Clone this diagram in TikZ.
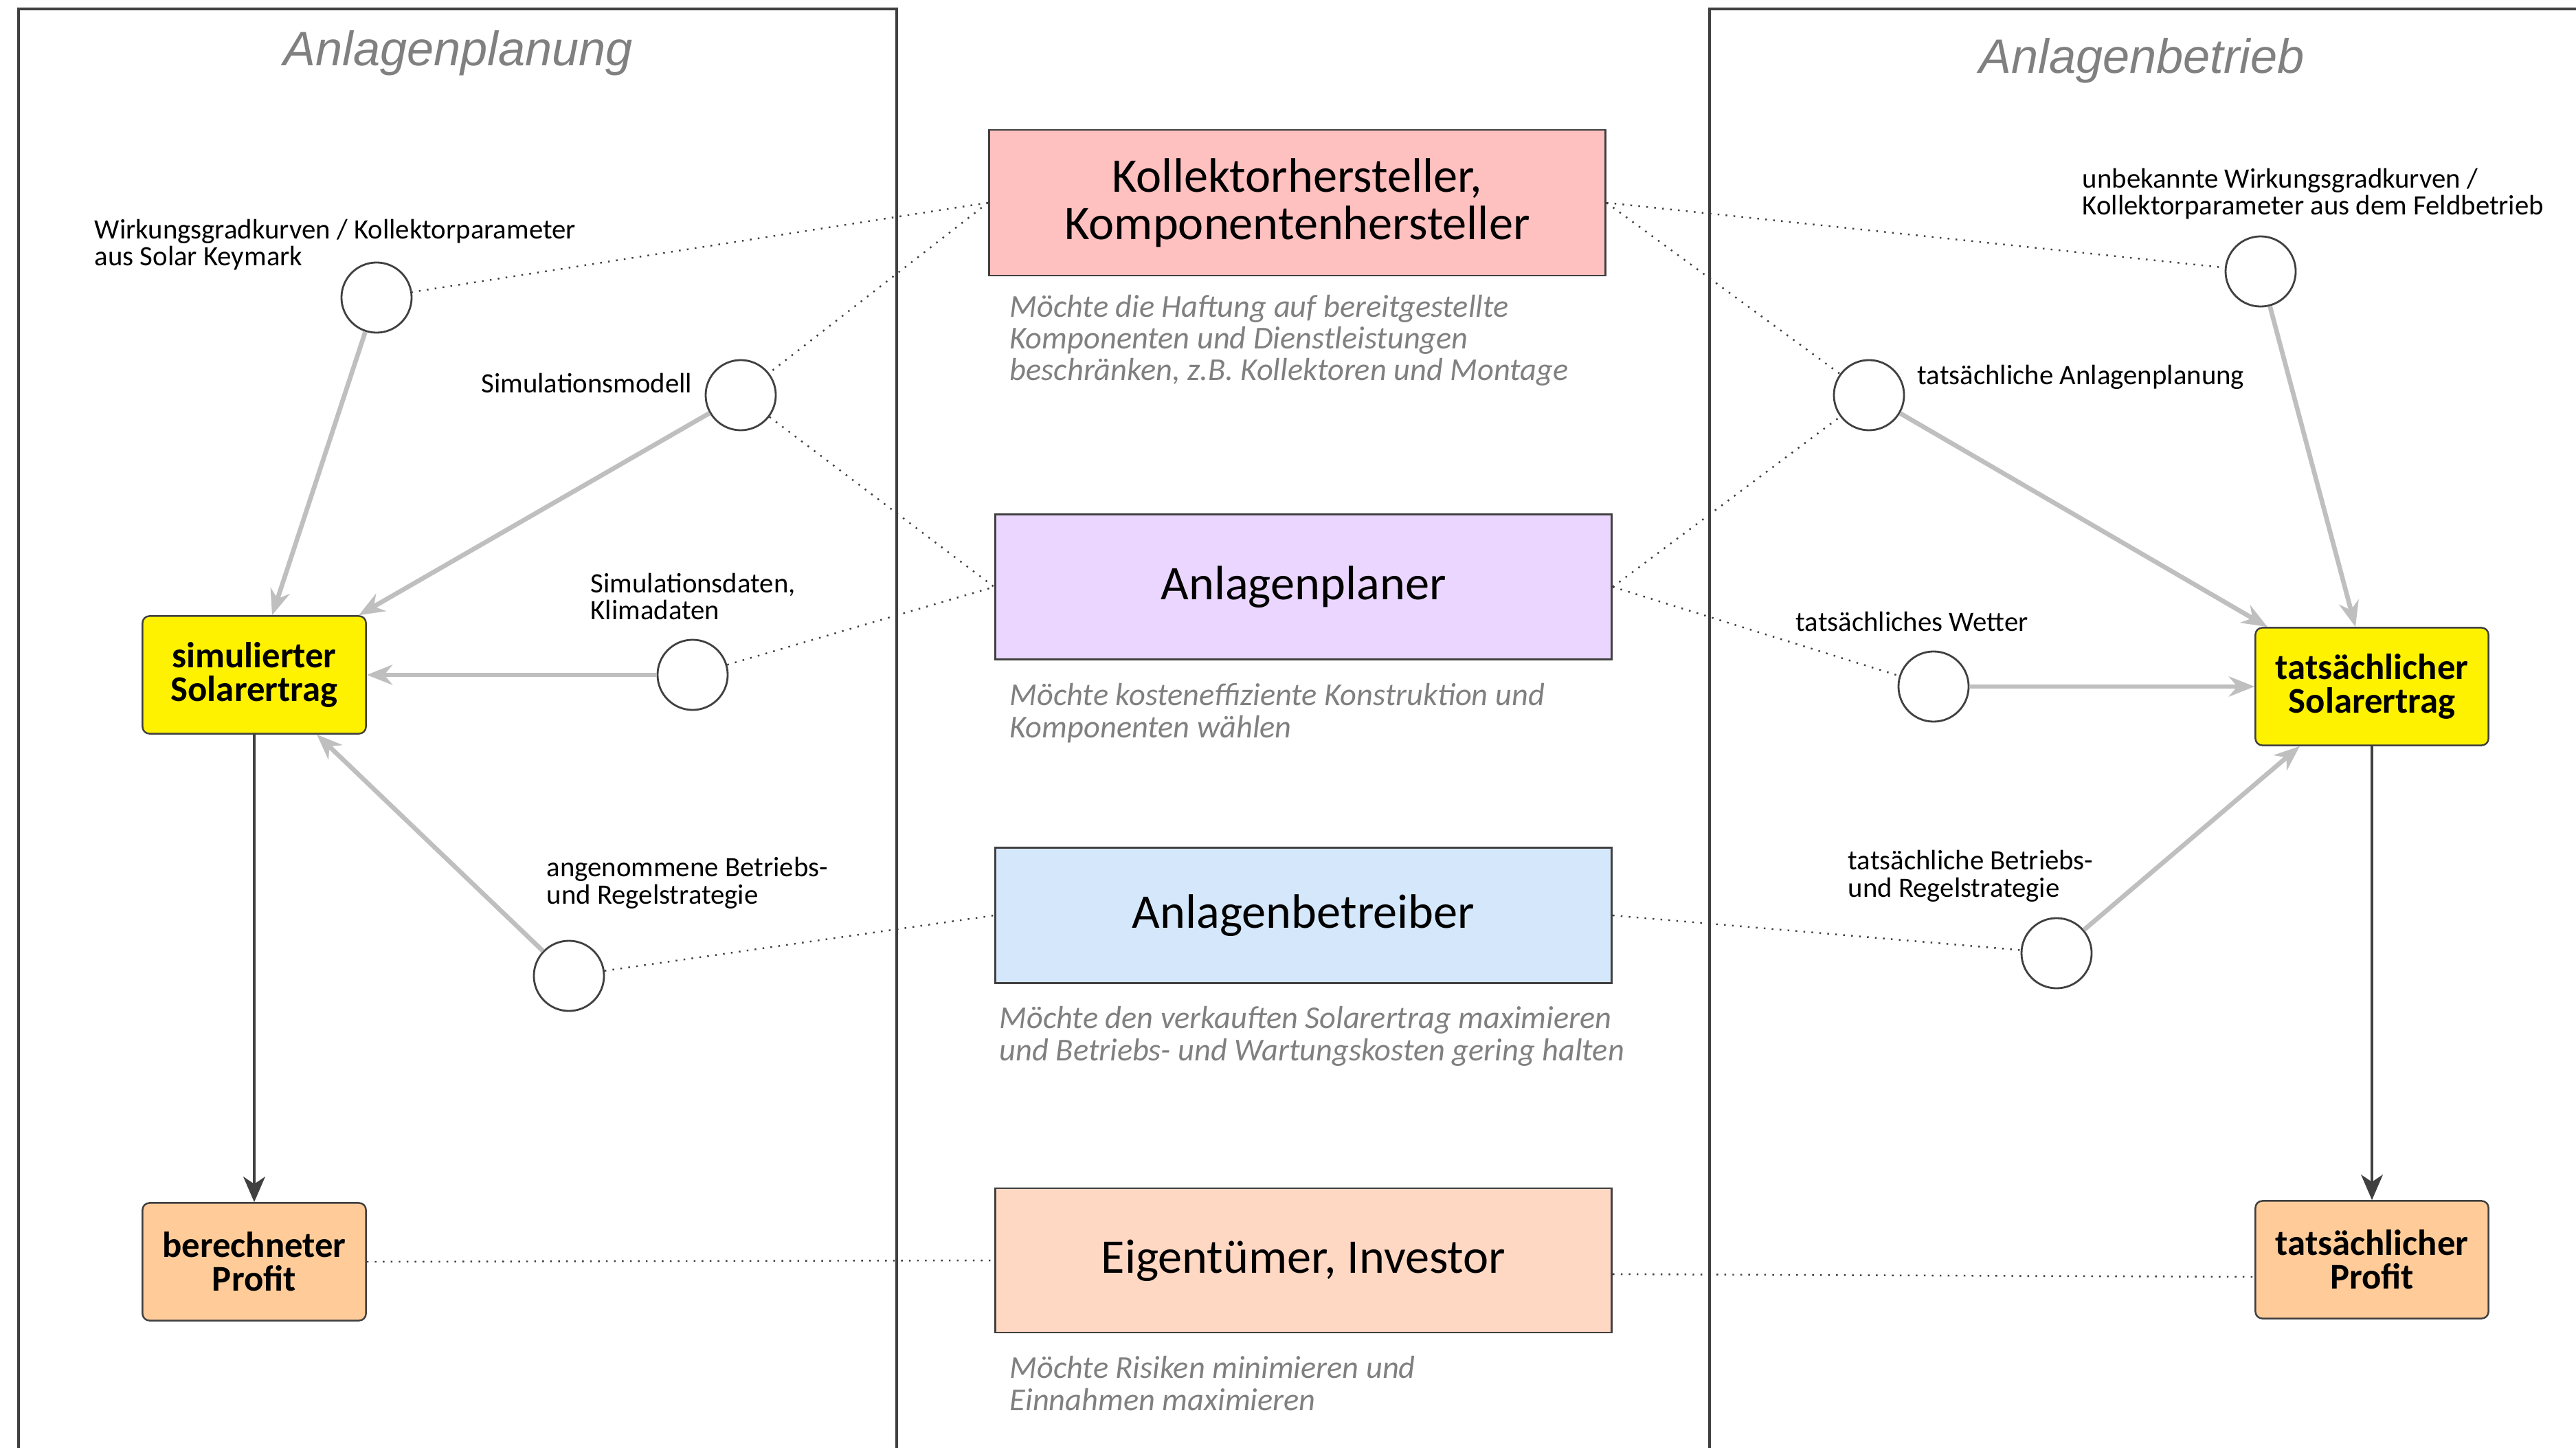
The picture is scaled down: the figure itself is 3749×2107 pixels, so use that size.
\documentclass[tikz,border=0pt]{standalone}
\usepackage{fontspec}
\setmainfont{Carlito}
\newfontfamily\headfont{Liberation Sans}
\usetikzlibrary{arrows.meta}

\definecolor{kollfill}{RGB}{255,192,192}
\definecolor{planfill}{RGB}{234,214,254}
\definecolor{betrfill}{RGB}{213,232,251}
\definecolor{eigfill}{RGB}{255,216,196}
\definecolor{profitfill}{RGB}{255,204,153}
\definecolor{linegray}{RGB}{64,64,64}
\definecolor{flowgray}{RGB}{191,191,191}
\definecolor{descgray}{RGB}{128,128,128}

\begin{document}
\begin{tikzpicture}[x=0.01cm,y=-0.01cm]
\tikzset{
  rolebox/.style={draw=linegray, line width=0.8pt, minimum width=8.97cm, align=center, inner sep=0pt, font=\fontsize{20}{19.6}\selectfont},
  resultbox/.style={draw=linegray, line width=0.7pt, rounded corners=0.1cm, minimum width=3.25cm, minimum height=1.71cm, align=center, inner sep=0pt, font=\bfseries\fontsize{15}{14}\selectfont},
  factor/.style={draw=linegray, line width=0.8pt, circle, minimum size=1.02cm, inner sep=0pt},
  lbl/.style={align=left, inner sep=0pt, font=\fontsize{11.6}{11.1}\selectfont},
  desc/.style={align=left, inner sep=0pt, text=descgray, font=\itshape\fontsize{13.2}{13.1}\selectfont},
  head/.style={inner sep=0pt, text=descgray, font=\headfont\itshape\fontsize{20}{20}\selectfont},
  flow/.style={draw=flowgray, line width=1.9pt, -{Stealth[length=10.6pt,width=8.3pt,inset=3.4pt]}},
  result/.style={draw=linegray, line width=1.1pt, -{Stealth[length=10.5pt,width=9pt,inset=3pt]}},
  link/.style={draw=linegray, line width=0.7pt, dash pattern=on 0.7pt off 2.6pt},
  phase/.style={draw=linegray, line width=1.3pt}
}
\useasboundingbox (0,0) rectangle (3749,2107);

\draw[phase] (27,2107) -- (27,13) -- (1305,13) -- (1305,2107);
\draw[phase] (2488,2107) -- (2488,13) -- (3760,13);

\node[head, anchor=base] (planung) at (667,96) {Anlagenplanung};
\node[head, anchor=base] (betrieb) at (3117,107) {Anlagenbetrieb};

\node[rolebox, fill=kollfill, minimum height=2.12cm] (koll) at (1888,295) {Kollektorhersteller,\\Komponentenhersteller};
\node[rolebox, fill=planfill, minimum height=2.11cm] (planer) at (1897,854) {Anlagenplaner};
\node[rolebox, fill=betrfill, minimum height=1.97cm] (betreiber) at (1897,1332) {Anlagenbetreiber};
\node[rolebox, fill=eigfill, minimum height=2.10cm] (eigner) at (1897,1834) {Eigentümer, Investor};

\node[desc, anchor=base west] (kolldesc) at (1469,554) {Möchte die Haftung auf bereitgestellte\\Komponenten und Dienstleistungen\\beschränken, z.B. Kollektoren und Montage};
\node[desc, anchor=base west] (planerdesc) at (1469,1073) {Möchte kosteneffiziente Konstruktion und\\Komponenten wählen};
\node[desc, anchor=base west] (betreiberdesc) at (1454,1543) {Möchte den verkauften Solarertrag maximieren\\und Betriebs- und Wartungskosten gering halten};
\node[desc, anchor=base west] (eignerdesc) at (1469,2052) {Möchte Risiken minimieren und\\Einnahmen maximieren};

\node[resultbox, fill=yellow] (simertrag) at (370,982) {simulierter\\Solarertrag};
\node[resultbox, fill=profitfill] (berprofit) at (370,1836) {berechneter\\Profit};
\node[resultbox, fill=yellow, minimum width=3.39cm] (tatertrag) at (3452,999) {tatsächlicher\\Solarertrag};
\node[resultbox, fill=profitfill, minimum width=3.39cm] (tatprofit) at (3452,1833) {tatsächlicher\\Profit};

\node[factor] (wirk) at (548,433) {};
\node[factor] (simmod) at (1078,575) {};
\node[factor] (simdat) at (1008,982) {};
\node[factor] (annstrat) at (828,1420) {};
\node[factor] (unbek) at (3290,395) {};
\node[factor] (tatplan) at (2720,575) {};
\node[factor] (wetter) at (2814,999) {};
\node[factor] (tatstrat) at (2993,1387) {};

\node[lbl, anchor=base west] (wirklbl) at (137,387) {Wirkungsgradkurven / Kollektorparameter\\aus Solar Keymark};
\node[lbl, anchor=base east] (simmodlbl) at (1008,572) {Simulationsmodell};
\node[lbl, anchor=base west] (simdatlbl) at (859,902) {Simulationsdaten,\\Klimadaten};
\node[lbl, anchor=base west] (annstratlbl) at (795,1315) {angenommene Betriebs-\\und Regelstrategie};
\node[lbl, anchor=base west] (unbeklbl) at (3030,313) {unbekannte Wirkungsgradkurven /\\Kollektorparameter aus dem Feldbetrieb};
\node[lbl, anchor=base west] (tatplanlbl) at (2790,560) {tatsächliche Anlagenplanung};
\node[lbl, anchor=base west] (wetterlbl) at (2613,918) {tatsächliches Wetter};
\node[lbl, anchor=base west] (tatstratlbl) at (2689,1305) {tatsächliche Betriebs-\\und Regelstrategie};

\draw[flow] (wirk) -- ([xshift=0.26cm]simertrag.north);
\draw[flow] (simmod) -- ([xshift=1.52cm]simertrag.north);
\draw[flow] (simdat) -- (simertrag.east);
\draw[flow] (annstrat) -- ([xshift=0.91cm]simertrag.south);
\draw[flow] (unbek) -- ([xshift=-0.24cm]tatertrag.north);
\draw[flow] (tatplan) -- ([xshift=-1.52cm]tatertrag.north);
\draw[flow] (wetter) -- (tatertrag.west);
\draw[flow] (tatstrat) -- ([xshift=-1.05cm]tatertrag.south);

\draw[result] (simertrag) -- (berprofit);
\draw[result] (tatertrag) -- (tatprofit);

\draw[link] (koll.west) -- (wirk);
\draw[link] (koll.west) -- (simmod);
\draw[link] (simmod) -- (planer.west);
\draw[link] (simdat) -- (planer.west);
\draw[link] (annstrat) -- (betreiber.west);
\draw[link] (berprofit.east) -- (eigner.west);
\draw[link] (koll.east) -- (unbek);
\draw[link] (koll.east) -- (tatplan);
\draw[link] (planer.east) -- (tatplan);
\draw[link] (planer.east) -- (wetter);
\draw[link] (betreiber.east) -- (tatstrat);
\draw[link] ([yshift=-0.2cm]eigner.east) -- ([yshift=-0.25cm]tatprofit.west);
\end{tikzpicture}
\end{document}
